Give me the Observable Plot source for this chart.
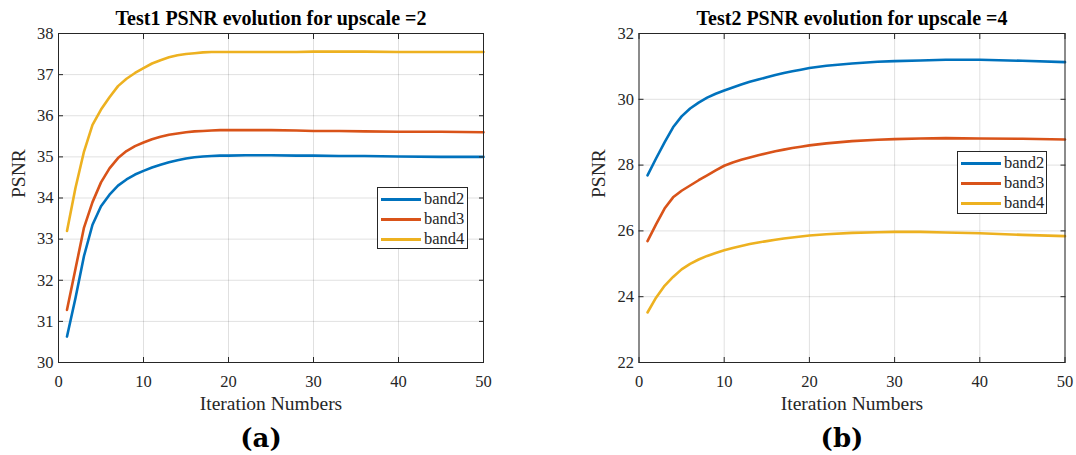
<!DOCTYPE html>
<html><head><meta charset="utf-8">
<script src="https://cdn.jsdelivr.net/npm/d3@7"></script>
<script src="https://cdn.jsdelivr.net/npm/@observablehq/plot@0.6"></script>
<style>
html,body{margin:0;padding:0;background:#fff;}
#fig{position:relative;width:1076px;height:455px;overflow:hidden;font-family:"Liberation Serif","Times New Roman",serif;}
.panel{position:absolute;top:0;}
.legend{position:absolute;box-sizing:border-box;border:1px solid #262626;background:#fff;padding-top:1px;}
.row{display:flex;align-items:center;height:20px;font-size:16.5px;color:#262626;line-height:20px;}
.sw{display:inline-block;width:40px;height:3px;margin:0 3px 0 3px;}
</style></head><body><div id="fig"></div>
<script>
// ---- data ----
const iterations = [1,2,3,4,5,6,7,8,9,10,11,12,13,14,15,16,17,18,19,20,22,25,28,30,33,36,40,45,50];
const bands = ["band2", "band3", "band4"];
const bandColors = ["#0072BD", "#D95319", "#EDB120"];
const xTicks = [0, 10, 20, 30, 40, 50];
const test1Ticks = [30, 31, 32, 33, 34, 35, 36, 37, 38];
const test2Ticks = [22, 24, 26, 28, 30, 32];

const test1Band2 = [30.63,31.57,32.59,33.35,33.80,34.08,34.30,34.45,34.57,34.66,34.74,34.81,34.87,34.92,34.96,34.99,35.01,35.02,35.03,35.03,35.04,35.04,35.03,35.03,35.02,35.02,35.01,35.00,35.00];
const test1Band3 = [31.28,32.28,33.28,33.90,34.38,34.72,34.97,35.14,35.26,35.35,35.43,35.49,35.54,35.57,35.60,35.62,35.63,35.64,35.65,35.65,35.65,35.65,35.64,35.63,35.63,35.62,35.61,35.61,35.60];
const test1Band4 = [33.20,34.25,35.13,35.78,36.15,36.45,36.72,36.90,37.04,37.16,37.27,37.35,37.42,37.47,37.50,37.52,37.54,37.55,37.55,37.55,37.55,37.55,37.55,37.56,37.56,37.56,37.55,37.55,37.55];

const test2Band2 = [27.69,28.20,28.69,29.15,29.48,29.72,29.90,30.05,30.17,30.27,30.36,30.45,30.53,30.60,30.67,30.74,30.80,30.85,30.90,30.95,31.02,31.09,31.14,31.16,31.18,31.20,31.20,31.17,31.13];
const test2Band3 = [25.69,26.20,26.68,27.02,27.22,27.38,27.54,27.69,27.84,27.98,28.08,28.16,28.23,28.30,28.36,28.42,28.47,28.52,28.56,28.60,28.66,28.73,28.77,28.79,28.81,28.82,28.81,28.80,28.78];
const test2Band4 = [23.52,23.97,24.33,24.60,24.83,25.00,25.13,25.24,25.33,25.41,25.48,25.54,25.60,25.65,25.69,25.73,25.77,25.80,25.83,25.86,25.90,25.94,25.96,25.97,25.97,25.95,25.93,25.88,25.84];

const titles = ["Test1 PSNR evolution for upscale =2", "Test2 PSNR evolution for upscale =4"];
const captions = ["(a)", "(b)"];
const xLabel = "Iteration Numbers";
const yLabel = "PSNR";

const serif = "'Liberation Serif','Times New Roman',serif";

function makePanel({values, yDomain, yTicks, title, caption, width, marginLeft, marginRight}) {
  const rows = bands.flatMap((b, i) => iterations.map((it, j) => ({iteration: it, psnr: values[i][j], band: b})));
  const gridStyle = {stroke: "#000", strokeOpacity: 0.12, strokeWidth: 1};
  return Plot.plot({
    width, height: 455,
    marginLeft, marginRight, marginTop: 33, marginBottom: 93,
    style: {fontFamily: serif, fontSize: "16.5px", color: "#262626", background: "#fff", overflow: "visible"},
    x: {domain: [0, 50], label: null},
    y: {domain: yDomain, label: null},
    color: {domain: bands, range: bandColors},
    marks: [
      Plot.gridX(xTicks, gridStyle),
      Plot.gridY(yTicks, gridStyle),
      Plot.line(rows, {x: "iteration", y: "psnr", stroke: "band", z: "band", strokeWidth: 2.6, strokeLinejoin: "round"}),
      Plot.frame({stroke: "#262626", strokeWidth: 1}),
      // inward ticks on all four sides (MATLAB style)
      Plot.axisX(xTicks, {anchor: "bottom", tickSize: 5, dy: -5, tickFormat: () => "", label: null, stroke: "#262626"}),
      Plot.axisX(xTicks, {anchor: "top", tickSize: 5, dy: 5, tickFormat: () => "", label: null, stroke: "#262626"}),
      Plot.axisY(yTicks, {anchor: "left", tickSize: 5, dx: 5, tickFormat: () => "", label: null, stroke: "#262626"}),
      Plot.axisY(yTicks, {anchor: "right", tickSize: 5, dx: -5, tickFormat: () => "", label: null, stroke: "#262626"}),
      // tick labels
      Plot.axisX(xTicks, {anchor: "bottom", tickSize: 0, tickPadding: 12.5, label: null, fill: "#262626"}),
      Plot.axisY(yTicks, {anchor: "left", tickSize: 0, tickPadding: 5, label: null, fill: "#262626"}),
      // title and labels
      Plot.text([title], {text: d => d, frameAnchor: "top", lineAnchor: "middle", dy: -14.5, fontSize: 20, fontWeight: "bold", fill: "#000"}),
      Plot.text([xLabel], {text: d => d, frameAnchor: "bottom", lineAnchor: "middle", dy: 41.5, fontSize: 19.5, fill: "#262626"}),
      Plot.text([yLabel], {text: d => d, frameAnchor: "left", lineAnchor: "middle", dx: -40, rotate: -90, fontSize: 19.5, fill: "#262626"}),
      Plot.text([caption], {text: d => d, frameAnchor: "bottom", lineAnchor: "middle", dy: 76, dx: -10, fontSize: 26, fontWeight: "bold", fontFamily: "'DejaVu Serif',serif", fill: "#000"})
    ]
  });
}

const fig = document.getElementById("fig");

function addPanel(left, plot) {
  const div = document.createElement("div");
  div.className = "panel";
  div.style.left = left + "px";
  div.appendChild(plot);
  fig.appendChild(div);
}

function addLegend(left, top, width, height) {
  const lg = document.createElement("div");
  lg.className = "legend";
  lg.style.left = left + "px";
  lg.style.top = top + "px";
  lg.style.width = width + "px";
  lg.style.height = height + "px";
  bands.forEach((b, i) => {
    const row = document.createElement("div");
    row.className = "row";
    const sw = document.createElement("span");
    sw.className = "sw";
    sw.style.background = bandColors[i];
    const t = document.createElement("span");
    t.textContent = b;
    row.appendChild(sw);
    row.appendChild(t);
    lg.appendChild(row);
  });
  fig.appendChild(lg);
}

addPanel(0, makePanel({
  values: [test1Band2, test1Band3, test1Band4],
  yDomain: [30, 38], yTicks: test1Ticks,
  title: titles[0], caption: captions[0],
  width: 540, marginLeft: 58, marginRight: 57
}));
addPanel(540, makePanel({
  values: [test2Band2, test2Band3, test2Band4],
  yDomain: [22, 32], yTicks: test2Ticks,
  title: titles[1], caption: captions[1],
  width: 536, marginLeft: 98.5, marginRight: 11.5
}));

addLegend(377, 187, 91, 62);
addLegend(957, 151, 90, 63);
</script>
</body></html>
